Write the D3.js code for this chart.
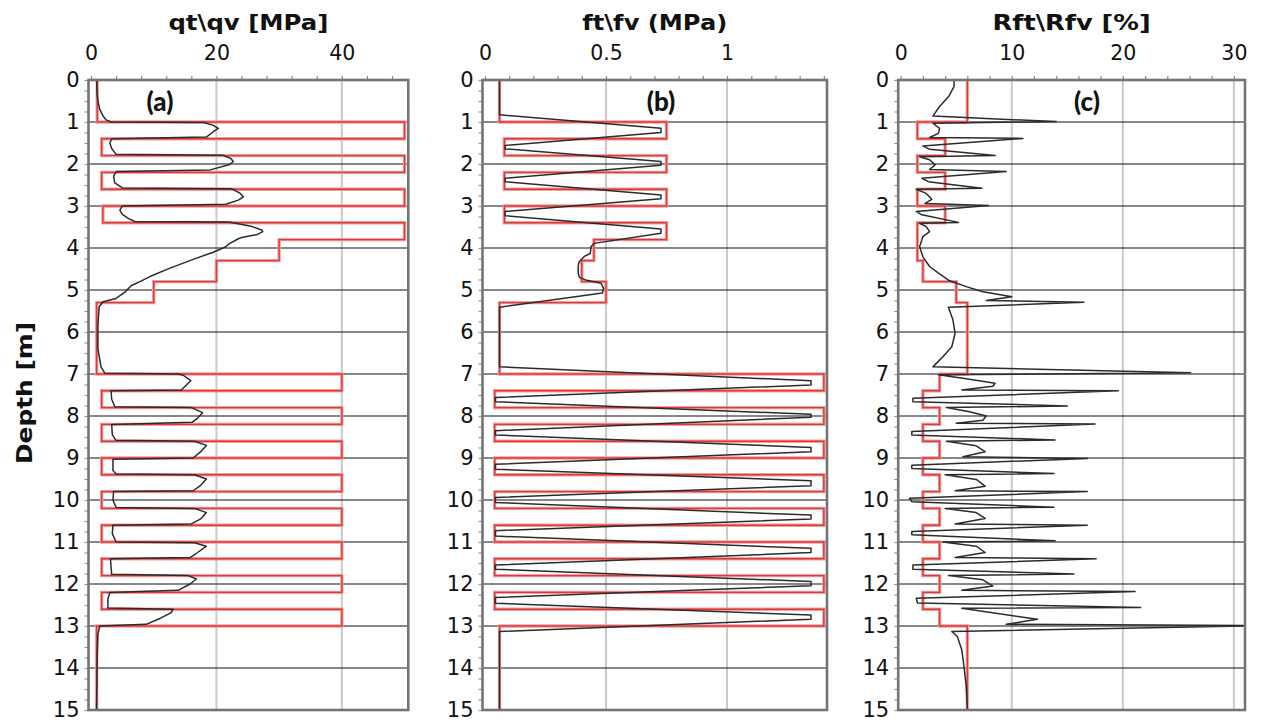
<!DOCTYPE html>
<html><head><meta charset="utf-8">
<script src="https://cdn.jsdelivr.net/npm/d3@7/dist/d3.min.js"></script>
<style>body{margin:0;background:#fff;} svg{display:block}</style>
</head><body>
<svg id="chart" width="1263" height="724"></svg>
<script>
// ---------- DATA ----------
const layerDepths = [0, 1.0, 1.4, 1.8, 2.2, 2.6, 3.0, 3.4, 3.8, 4.3, 4.8, 5.3, 7.0, 7.4, 7.8, 8.2, 8.6, 9.0, 9.4, 9.8, 10.2, 10.6, 11.0, 11.4, 11.8, 12.2, 12.6, 13.0, 15.0];
const qvValues = [1.0, 50, 1.7, 50, 1.7, 50, 1.9, 50, 30, 20, 10, 0.9, 40, 1.7, 40, 1.7, 40, 1.7, 40, 1.7, 40, 1.7, 40, 1.7, 40, 1.7, 40, 0.9];
const fvValues = [0.06, 0.75, 0.08, 0.75, 0.08, 0.75, 0.08, 0.75, 0.45, 0.40, 0.50, 0.06, 1.40, 0.04, 1.40, 0.04, 1.40, 0.04, 1.40, 0.04, 1.40, 0.04, 1.40, 0.04, 1.40, 0.04, 1.40, 0.06];
const rfvValues = [6.0, 1.5, 4.0, 1.5, 4.0, 1.5, 4.0, 1.5, 1.5, 2.0, 5.0, 6.0, 3.5, 2.0, 3.5, 2.0, 3.5, 2.0, 3.5, 2.0, 3.5, 2.0, 3.5, 2.0, 3.5, 2.0, 3.5, 6.0];

const qtDepth = [0, 0.3, 0.5, 0.7, 0.85, 0.95, 1.0, 1.01, 1.08, 1.15, 1.22, 1.36, 1.40, 1.5, 1.63, 1.77, 1.79, 1.87, 1.94, 2.02, 2.14, 2.18, 2.3, 2.45, 2.57, 2.59, 2.7, 2.78, 2.86, 2.96, 3.0, 3.1, 3.2, 3.3, 3.37, 3.38, 3.48, 3.57, 3.61, 3.68, 3.75, 3.78, 3.9, 3.97, 4.1, 4.27, 4.48, 4.68, 4.8, 4.9, 5.05, 5.2, 5.28, 5.4, 5.86, 6.4, 6.83, 6.98, 7.0, 7.03, 7.16, 7.25, 7.38, 7.40, 7.6, 7.78, 7.8, 7.92, 8.05, 8.15, 8.2, 8.45, 8.58, 8.6, 8.7, 8.85, 9.0, 9.03, 9.3, 9.38, 9.4, 9.5, 9.65, 9.78, 9.8, 10.0, 10.18, 10.2, 10.3, 10.45, 10.57, 10.6, 10.8, 11.0, 11.02, 11.1, 11.25, 11.37, 11.4, 11.6, 11.77, 11.8, 11.88, 12.0, 12.15, 12.2, 12.35, 12.57, 12.6, 12.68, 12.82, 12.96, 13.0, 13.2, 13.7, 14.9, 15.0];
const qtValue = [0.9, 0.95, 1.1, 1.4, 1.9, 2.4, 3.2, 18.0, 19.5, 20.3, 19.6, 18.4, 3.3, 3.0, 3.3, 4.0, 21.0, 22.3, 22.7, 22.0, 19.0, 4.0, 3.6, 3.8, 5.0, 22.5, 23.8, 24.3, 23.5, 21.5, 5.0, 4.6, 5.0, 6.0, 7.0, 22.0, 25.5, 27.2, 27.4, 26.5, 24.0, 23.5, 22.0, 21.5, 19.5, 16.3, 12.6, 9.4, 7.8, 6.4, 5.4, 4.0, 1.9, 1.3, 1.1, 1.1, 1.6, 2.2, 14.0, 14.7, 15.9, 15.3, 14.4, 3.2, 3.3, 3.8, 16.0, 17.8, 17.0, 16.1, 3.3, 3.4, 4.0, 16.5, 18.4, 17.5, 16.3, 3.5, 3.5, 4.0, 16.5, 18.4, 17.5, 16.3, 3.6, 3.5, 4.0, 16.5, 18.4, 17.5, 16.0, 3.5, 3.4, 4.0, 16.5, 18.4, 17.0, 15.8, 3.1, 3.2, 3.3, 15.5, 16.8, 15.8, 13.9, 3.0, 2.7, 2.7, 13.1, 12.8, 11.0, 8.8, 1.4, 1.1, 1.0, 0.9, 0.9];

const ftDepth = [0, 0.83, 1.15, 1.25, 1.56, 1.64, 1.94, 2.03, 2.34, 2.42, 2.74, 2.83, 3.13, 3.23, 3.55, 3.65, 3.89, 3.97, 4.13, 4.2, 4.32, 4.42, 4.6, 4.7, 4.77, 4.84, 4.96, 5.07, 5.41, 6.83, 7.16, 7.26, 7.56, 7.66, 7.96, 8.03, 8.35, 8.45, 8.75, 8.85, 9.15, 9.27, 9.54, 9.66, 9.94, 10.06, 10.36, 10.45, 10.73, 10.86, 11.15, 11.25, 11.55, 11.65, 11.94, 12.04, 12.32, 12.46, 12.74, 12.84, 13.13, 15.0];
const ftValue = [0.06, 0.06, 0.727, 0.727, 0.083, 0.083, 0.727, 0.727, 0.083, 0.083, 0.727, 0.727, 0.083, 0.083, 0.727, 0.727, 0.45, 0.438, 0.435, 0.41, 0.39, 0.385, 0.385, 0.39, 0.42, 0.48, 0.49, 0.485, 0.06, 0.06, 1.347, 1.347, 0.043, 0.043, 1.347, 1.347, 0.043, 0.043, 1.347, 1.347, 0.043, 0.043, 1.347, 1.347, 0.043, 0.043, 1.347, 1.347, 0.043, 0.043, 1.347, 1.347, 0.043, 0.043, 1.347, 1.347, 0.043, 0.043, 1.347, 1.347, 0.06, 0.06];

const rftDepth = [0, 0.16, 0.4, 0.63, 0.86, 0.99, 1.03, 1.15, 1.27, 1.37, 1.39, 1.57, 1.65, 1.80, 1.83, 1.9, 2.02, 2.13, 2.18, 2.34, 2.42, 2.58, 2.6, 2.70, 2.84, 2.94, 2.99, 3.13, 3.21, 3.39, 3.41, 3.49, 3.61, 3.73, 3.97, 4.21, 4.44, 4.6, 4.78, 4.92, 5.04, 5.16, 5.25, 5.29, 5.41, 5.71, 6.03, 6.35, 6.59, 6.83, 6.97, 7.02, 7.1, 7.22, 7.29, 7.38, 7.40, 7.58, 7.66, 7.76, 7.80, 7.90, 8.0, 8.1, 8.17, 8.19, 8.37, 8.45, 8.57, 8.60, 8.71, 8.85, 8.97, 9.01, 9.17, 9.25, 9.37, 9.40, 9.51, 9.67, 9.78, 9.80, 9.96, 10.04, 10.17, 10.20, 10.30, 10.44, 10.57, 10.60, 10.75, 10.83, 10.97, 11.0, 11.1, 11.25, 11.37, 11.40, 11.55, 11.65, 11.76, 11.80, 11.90, 12.05, 12.15, 12.18, 12.34, 12.45, 12.56, 12.58, 12.84, 12.96, 12.99, 13.13, 13.25, 13.57, 13.97, 14.44, 14.96, 15.0];
const rftValue = [4.8, 4.8, 4.3, 3.5, 2.9, 14.0, 2.9, 3.5, 3.4, 2.6, 11.0, 2.0, 2.6, 8.5, 1.7, 2.6, 3.1, 2.6, 9.5, 1.9, 2.5, 7.3, 1.4, 2.3, 2.8, 2.2, 7.9, 1.4, 1.9, 5.2, 1.7, 2.3, 2.6, 2.0, 1.7, 2.0, 2.6, 3.4, 4.4, 5.9, 7.4, 10.0, 7.7, 16.5, 4.3, 4.7, 4.9, 4.6, 3.8, 2.9, 26.1, 3.4, 5.6, 8.5, 8.3, 5.5, 19.6, 1.1, 1.1, 15.0, 4.1, 6.2, 7.7, 7.4, 5.0, 17.5, 1.0, 1.0, 13.9, 4.1, 6.8, 7.6, 5.6, 16.8, 1.0, 1.0, 13.8, 4.0, 6.8, 7.6, 4.9, 16.8, 0.8, 1.0, 13.8, 4.0, 6.8, 7.6, 4.9, 16.8, 1.0, 1.0, 13.9, 3.8, 6.8, 7.6, 4.9, 17.6, 1.1, 1.1, 15.6, 4.3, 7.4, 8.3, 5.5, 21.1, 1.4, 1.5, 21.6, 5.5, 12.3, 9.5, 33, 4.6, 5.1, 5.5, 5.7, 5.9, 6.0, 6.0];

const titles = ["qt\\qv [MPa]", "ft\\fv (MPa)", "Rft\\Rfv [%]"];
const panelLabels = ["(a)", "(b)", "(c)"];
const majorTicks = [[0, 20, 40], [0, 0.5, 1], [0, 10, 20, 30]];
const depthTicks = [0, 1, 2, 3, 4, 5, 6, 7, 8, 9, 10, 11, 12, 13, 14, 15];

// ---------- LAYOUT ----------
const svg = d3.select("#chart");
const yTop = 80, yBottom = 710;
const y = d3.scaleLinear().domain([0, 15]).range([yTop, yBottom]);

const panels = [
  {x0: 91, x1: 408.3, max: 50.6, minorStep: 4, fmt: d3.format("d"), curveD: qtDepth, curveV: qtValue, step: qvValues, titleW: 160, labelX: 160},
  {x0: 485, x1: 827, max: 1.413, minorStep: 0.1, fmt: d => d === 0.5 ? "0.5" : String(d), curveD: ftDepth, curveV: ftValue, step: fvValues, titleW: 145, labelX: 661},
  {x0: 900.7, x1: 1245, max: 31.0, minorStep: 2, fmt: d3.format("d"), curveD: rftDepth, curveV: rftValue, step: rfvValues, titleW: 158, labelX: 1087}
];

const defs = svg.append("defs");

panels.forEach((p, i) => {
  const x = d3.scaleLinear().domain([0, p.max]).range([p.x0, p.x1]);
  const fl = p.x0 - 2.5, fr = p.x1;
  const g = svg.append("g");

  defs.append("clipPath").attr("id", "clip" + i)
    .append("rect").attr("x", fl).attr("y", yTop).attr("width", fr - fl).attr("height", yBottom - yTop);

  g.selectAll(".vg").data(majorTicks[i].filter(d => d > 0)).enter().append("line")
    .attr("x1", d => x(d)).attr("x2", d => x(d)).attr("y1", yTop).attr("y2", yBottom)
    .attr("stroke", "#c9c9c9").attr("stroke-width", 2);

  g.selectAll(".hg").data(depthTicks.filter(d => d > 0 && d < 15)).enter().append("line")
    .attr("x1", fl).attr("x2", fr).attr("y1", d => y(d)).attr("y2", d => y(d))
    .attr("stroke", "#111").attr("stroke-width", 1.1);

  const minor = d3.range(0, p.max + 1e-9, p.minorStep);
  const axTop = d3.axisTop(x).tickValues(minor).tickSize(4).tickSizeOuter(0).tickFormat("");
  const ga = g.append("g").attr("transform", `translate(0,${yTop})`).call(axTop);
  ga.select(".domain").remove();
  ga.selectAll("line").attr("stroke", "#888").attr("stroke-width", 1.2);

  const axLab = d3.axisTop(x).tickValues(majorTicks[i]).tickSize(0).tickPadding(20).tickFormat(p.fmt);
  const gl = g.append("g").attr("transform", `translate(0,${yTop})`).call(axLab);
  gl.select(".domain").remove();
  gl.selectAll("text").attr("font-family", "DejaVu Sans, Verdana, sans-serif").attr("font-size", 20.5).attr("fill", "#111");

  const axLeft = d3.axisLeft(y).tickValues(d3.range(0, 15.001, 0.25)).tickSize(4).tickSizeOuter(0).tickFormat("");
  const gy = g.append("g").attr("transform", `translate(${fl},0)`).call(axLeft);
  gy.select(".domain").remove();
  gy.selectAll("line").attr("stroke", "#999").attr("stroke-width", 1.2);

  const axLeftLab = d3.axisLeft(y).tickValues(depthTicks).tickSize(0).tickPadding(9).tickFormat(d3.format("d"));
  const gyl = g.append("g").attr("transform", `translate(${fl},0)`).call(axLeftLab);
  gyl.select(".domain").remove();
  gyl.selectAll("text").attr("font-family", "DejaVu Sans, Verdana, sans-serif").attr("font-size", 21).attr("fill", "#111");

  const plot = g.append("g").attr("clip-path", `url(#clip${i})`);

  const stepPts = [];
  p.step.forEach((v, k) => { stepPts.push([v, layerDepths[k]]); stepPts.push([v, layerDepths[k + 1]]); });
  const line = d3.line().x(d => x(d[0])).y(d => y(d[1]));
  plot.append("path").attr("d", line(stepPts)).attr("fill", "none")
    .attr("stroke", "#f2a0a0").attr("stroke-width", 3.4);
  plot.append("path").attr("d", line(stepPts)).attr("fill", "none")
    .attr("stroke", "#d93a3a").attr("stroke-width", 1.4);

  const cPts = p.curveD.map((d, k) => [p.curveV[k], d]);
  plot.append("path").attr("d", line(cPts)).attr("fill", "none")
    .attr("stroke", "#2b2b2b").attr("stroke-width", 1.5).attr("stroke-linejoin", "round");

  g.append("rect").attr("x", fl).attr("y", yTop).attr("width", fr - fl).attr("height", yBottom - yTop)
    .attr("fill", "none").attr("stroke", "#747474").attr("stroke-width", 2.6);

  svg.append("text").attr("x", (fl + fr) / 2).attr("y", 30).attr("text-anchor", "middle")
    .attr("font-family", "DejaVu Sans, Verdana, sans-serif").attr("font-weight", "bold").attr("font-size", 21)
    .attr("textLength", p.titleW).attr("lengthAdjust", "spacingAndGlyphs")
    .attr("fill", "#111").text(titles[i]);

  svg.append("text").attr("x", p.labelX).attr("y", 111).attr("text-anchor", "middle")
    .attr("font-family", "Lato, sans-serif").attr("font-weight", "900").attr("font-size", 26)
    .attr("fill", "#111").text(panelLabels[i]);
});

svg.append("text").attr("transform", "translate(32,393) rotate(-90)").attr("text-anchor", "middle")
  .attr("font-family", "DejaVu Sans, Verdana, sans-serif").attr("font-weight", "bold").attr("font-size", 22)
  .attr("textLength", 142).attr("lengthAdjust", "spacingAndGlyphs")
  .attr("fill", "#111").text("Depth [m]");
</script>
</body></html>
